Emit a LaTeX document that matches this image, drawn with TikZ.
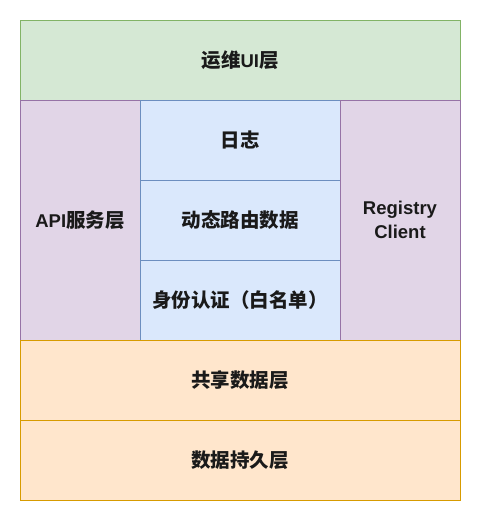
\documentclass[tikz,border=0pt]{standalone}
\usepackage{fontspec}
\setmainfont{Liberation Sans}
\newfontfamily\cjkf{Noto Sans CJK SC}
\newcommand{\cjk}{\cjkf\fontsize{19.5}{24}\selectfont}
\definecolor{gfill}{HTML}{D5E8D4}\definecolor{gdraw}{HTML}{82B366}
\definecolor{pfill}{HTML}{E1D5E7}\definecolor{pdraw}{HTML}{9673A6}
\definecolor{bfill}{HTML}{DAE8FC}\definecolor{bdraw}{HTML}{6C8EBF}
\definecolor{ofill}{HTML}{FFE6CC}\definecolor{odraw}{HTML}{D79B00}
\definecolor{txt}{HTML}{1A1A1A}
\begin{document}
\begin{tikzpicture}[x=1pt,y=-1pt,
  boxbase/.style={font=\fontsize{18.5}{24}\selectfont\bfseries, text=txt, align=center, line width=0.8pt},
  gbox/.style={boxbase, fill=gfill, draw=gdraw},
  pbox/.style={boxbase, fill=pfill, draw=pdraw},
  bbox/.style={boxbase, fill=bfill, draw=bdraw},
  obox/.style={boxbase, fill=ofill, draw=odraw}]
\useasboundingbox (0,0) rectangle (481,521);
\fill[white] (0,0) rectangle (481,521);
\draw[gbox] (20,20) rectangle (460,100) node[midway] (ui) {{\cjk 运维}UI{\cjk 层}};
\draw[pbox] (20,100) rectangle (140,340) node[midway] (api) {API{\cjk 服务层}};
\draw[bbox] (140,100) rectangle (340,180) node[midway] (log) {\cjk 日志};
\draw[bbox] (140,180) rectangle (340,260) node[midway] (route) {\cjk 动态路由数据};
\draw[bbox] (140,260) rectangle (340,340) node[midway] (auth) {\cjk 身份认证（白名单）};
\draw[pbox] (340,100) rectangle (460,340) node[midway] (reg) {Registry\\Client};
\draw[obox] (20,340) rectangle (460,420) node[midway] (share) {\cjk 共享数据层};
\draw[obox] (20,420) rectangle (460,500) node[midway] (persist) {\cjk 数据持久层};
\end{tikzpicture}
\end{document}
